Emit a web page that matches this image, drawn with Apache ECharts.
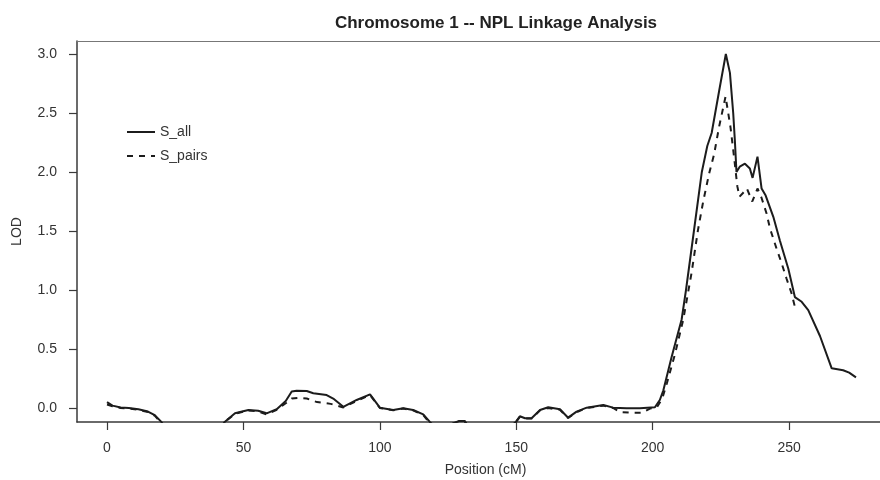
<!DOCTYPE html>
<html>
<head>
<meta charset="utf-8">
<script src="https://cdn.jsdelivr.net/npm/echarts@6/dist/echarts.min.js"></script>
<style>html,body{margin:0;padding:0;background:#fff}#c{width:880px;height:480px}</style>
</head>
<body>
<div id="c"></div>
<script>
// Data (values below the axis minimum are clipped, as in the original)
var sallPos = [0,2,5,8,11.5,15,17.5,20,22,25,30,35,40,43,46.9,51.8,55.4,58.5,62.2,65.5,67.7,69.5,73.2,75.6,80.5,82.9,86.6,91.5,96.4,100,104.9,108.6,112.2,115.9,118.4,122,126,129,131,134,140,146,149.9,151.3,153.2,155.6,158.7,161.7,166,169,172.1,175.8,181.9,185.5,190.4,195.3,200.8,202.6,203.9,206.9,210.6,212.2,215.1,218,220,221.6,224.6,226.8,228.3,229.5,230.1,230.7,231.9,233.8,235.6,236.6,238.4,239.9,241.4,244.2,246.6,249.7,252.1,254.6,257,261.3,265.6,269.8,272,274.5];
var sallLod = [0.05,0.02,0.005,0.0,-0.01,-0.03,-0.06,-0.12,-0.2,-0.3,-0.4,-0.35,-0.25,-0.12,-0.045,-0.017,-0.023,-0.045,-0.01,0.06,0.14,0.147,0.144,0.125,0.11,0.08,0.01,0.068,0.116,0.003,-0.017,-0.003,-0.017,-0.054,-0.12,-0.2,-0.14,-0.11,-0.11,-0.2,-0.3,-0.2,-0.116,-0.07,-0.087,-0.087,-0.017,0.006,-0.011,-0.082,-0.031,0.003,0.025,0.003,-0.003,-0.003,0.006,0.068,0.15,0.43,0.75,1.0,1.5,2.0,2.22,2.33,2.72,3.0,2.84,2.5,2.27,2.0,2.045,2.07,2.03,1.95,2.13,1.86,1.8,1.62,1.42,1.18,0.94,0.9,0.83,0.61,0.336,0.32,0.3,0.26];

var spairsPos = [0,2,5,8,11.5,15,17.5,20,22,25,30,35,40,43,46.9,51.8,55.4,58.5,62.2,65.5,67.7,70,73.2,77,82,86.6,91.5,96.4,100,104.9,108.6,112.2,115.9,118.4,122,126,129,131,134,140,146,149.9,151.3,153.2,155.6,158.7,161.7,166,169,172.1,175.8,181.9,185.5,188,192,196,199,201.5,203.5,205.2,208.2,211.2,214.2,216.6,218.5,220.7,222.5,224.3,226.7,228.5,229.8,231,231.8,233,234.5,236.5,238.4,239.9,241.7,243,245.4,247.2,249,250.9,252.5];
var spairsLod = [0.03,0.015,0.0,-0.005,-0.015,-0.035,-0.065,-0.13,-0.2,-0.3,-0.4,-0.35,-0.25,-0.12,-0.05,-0.02,-0.03,-0.055,-0.015,0.04,0.08,0.085,0.08,0.05,0.035,0.005,0.06,0.11,0.0,-0.02,-0.005,-0.02,-0.06,-0.13,-0.2,-0.14,-0.11,-0.11,-0.2,-0.3,-0.2,-0.12,-0.075,-0.09,-0.09,-0.02,0.0,-0.015,-0.085,-0.035,0.0,0.02,0.0,-0.035,-0.04,-0.04,-0.005,0.005,0.08,0.21,0.46,0.75,1.14,1.51,1.75,1.99,2.15,2.38,2.64,2.38,2.13,1.88,1.79,1.82,1.86,1.75,1.86,1.78,1.65,1.52,1.35,1.23,1.1,0.97,0.82];

var xTicks = [0,50,100,150,200,250];
var yTicks = [0,0.5,1.0,1.5,2.0,2.5,3.0];
var seriesNames = ['S_all','S_pairs'];
var titleText = 'Chromosome 1 -- NPL Linkage Analysis';
var xName = 'Position (cM)';
var yName = 'LOD';

function zip(a,b){var r=[];for(var i=0;i<a.length;i++){r.push([a[i],b[i]]);}return r;}

var axisColor = '#3a3a3a';
var fontFam = 'Liberation Sans, Arial, sans-serif';
var chart = echarts.init(document.getElementById('c'), null, {renderer:'canvas'});
chart.setOption({
  animation:false,
  backgroundColor:'#fff',
  title:{text:titleText,left:491,top:10,textAlign:'center',textStyle:{fontFamily:fontFam,fontSize:17,fontWeight:'bold',color:'#222'}},
  legend:{orient:'vertical',left:121,top:120,itemWidth:28,itemHeight:12,itemGap:10,
    itemStyle:{color:'rgba(0,0,0,0)',borderWidth:0,opacity:0},
    textStyle:{fontFamily:fontFam,fontSize:14,color:'#333'},
    data:[{name:seriesNames[0]},{name:seriesNames[1]}]},
  grid:{left:77,right:0,top:41,bottom:58,containLabel:false,outerBoundsMode:'none'},
  xAxis:[{type:'value',min:-11,max:283.3,
    name:xName,nameLocation:'middle',nameGap:41,
    nameTextStyle:{fontFamily:fontFam,fontSize:14,color:'#333',padding:[0,0,0,14]},
    axisLine:{show:true,onZero:false,lineStyle:{color:axisColor,width:1.5}},
    axisTick:{show:true,length:8,customValues:xTicks,lineStyle:{color:axisColor,width:1.2}},
    axisLabel:{show:true,margin:19,customValues:xTicks,fontFamily:fontFam,fontSize:14,color:'#333'},
    splitLine:{show:false}},
   {type:'value',position:'top',min:-11,max:283.3,
    axisLine:{show:true,onZero:false,lineStyle:{color:'#777',width:1.2}},
    axisTick:{show:false},axisLabel:{show:false},splitLine:{show:false}}],
  yAxis:{type:'value',min:-0.1186,max:3.11,
    name:yName,nameLocation:'middle',nameGap:53,nameRotate:90,
    nameTextStyle:{fontFamily:fontFam,fontSize:14,color:'#333'},
    axisLine:{show:true,onZero:false,lineStyle:{color:axisColor,width:1.5}},
    axisTick:{show:true,length:8,customValues:yTicks,lineStyle:{color:axisColor,width:1.2}},
    axisLabel:{show:true,margin:20,customValues:yTicks,fontFamily:fontFam,fontSize:14,color:'#333',
      formatter:function(v){return v.toFixed(1);}},
    splitLine:{show:false}},
  series:[
    {name:seriesNames[0],type:'line',data:zip(sallPos,sallLod),showSymbol:false,symbol:'none',clip:true,
      lineStyle:{color:'#1c1c1c',width:2},itemStyle:{color:'#1c1c1c'}},
    {name:seriesNames[1],type:'line',data:zip(spairsPos,spairsLod),showSymbol:false,symbol:'none',clip:true,
      lineStyle:{color:'#1c1c1c',width:2,type:[6,6]},itemStyle:{color:'#1c1c1c'}}
  ]
});
</script>
</body>
</html>
